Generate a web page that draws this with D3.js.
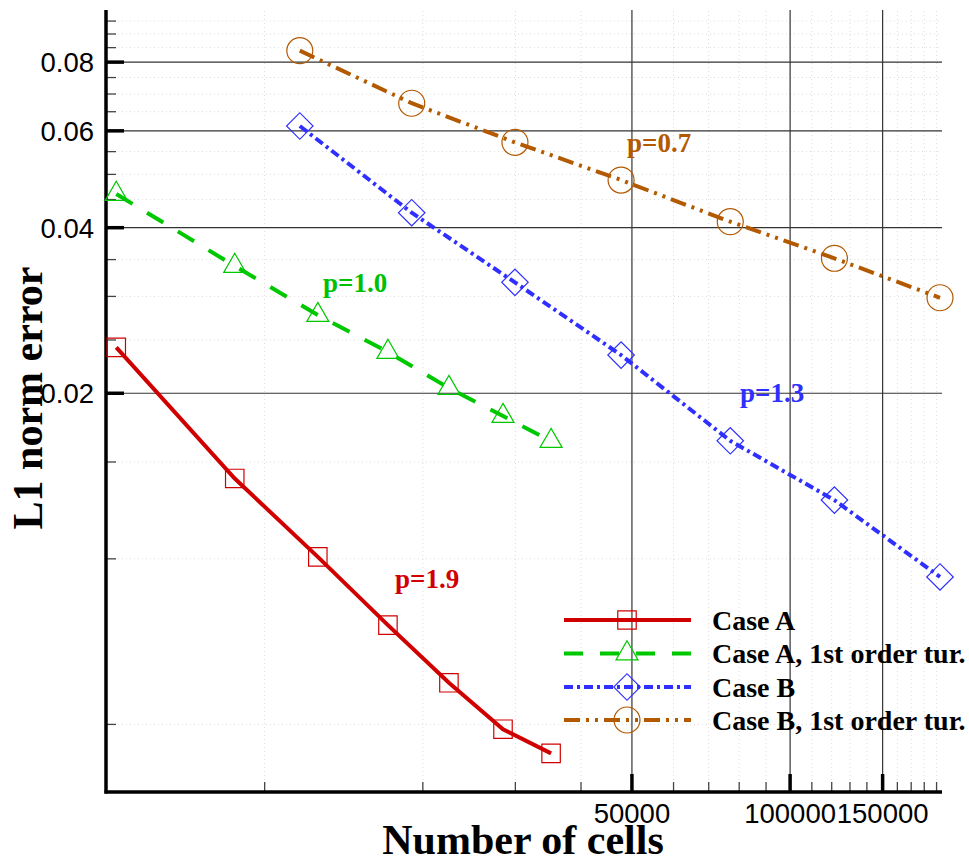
<!DOCTYPE html>
<html>
<head>
<meta charset="utf-8">
<script src="https://cdn.jsdelivr.net/npm/d3@7"></script>
<style>
  body { margin: 0; background: #fff; }
</style>
</head>
<body>
<div id="chart"></div>
<script>
// Grid sizes (number of cells) for the two cases
const cellsA = [5230, 8790, 12650, 17200, 22470, 28480, 35160];
const cellsB = [11690, 19090, 30010, 47780, 77100, 121700, 193300];

// L1 norm error for each series
const errCaseA = [0.02419, 0.01397, 0.01006, 0.00756, 0.00594, 0.00489, 0.00442];
const errCaseA1st = [0.04597, 0.03400, 0.02769, 0.02372, 0.02040, 0.01814, 0.01634];
const errCaseB = [0.06110, 0.04250, 0.03175, 0.02342, 0.01636, 0.01276, 0.00925];
const errCaseB1st = [0.08376, 0.06721, 0.05706, 0.04873, 0.04093, 0.03512, 0.02977];

// Legend labels and slope annotations
const seriesNames = ["Case A", "Case A, 1st order tur.", "Case B", "Case B, 1st order tur."];
const slopeLabels = ["p=1.9", "p=1.0", "p=1.3", "p=0.7"];

// Tick values
const xMajorTicks = [50000, 100000, 150000];
const xMinorTicks = [10000, 20000, 30000, 40000, 60000, 70000, 80000, 90000,
    110000, 120000, 130000, 140000, 160000, 170000, 180000, 190000];
const yMajorTicks = [0.02, 0.04, 0.06, 0.08];
const yMinorTicks = [0.005, 0.01, 0.015, 0.025, 0.03, 0.035, 0.045, 0.05, 0.055,
    0.065, 0.07, 0.075, 0.085, 0.09, 0.095];

function init() {
    const w = 969;
    const h = 863;
    const left = 106, right = 942, top = 10, bottom = 792; // plot area

    const xScale = d3.scaleLog().domain([5000, 195000]).range([left, right]);
    const yScale = d3.scaleLog().domain([0.00376, 0.0993]).range([bottom, top]);

    const svg = d3.select("#chart")
        .append("svg")
        .attr("width", w)
        .attr("height", h);

    // Minor dotted grid
    svg.append("g")
        .attr("transform", `translate(${left},0)`)
        .call(d3.axisLeft(yScale).tickValues(yMinorTicks).tickSize(-(right - left)).tickFormat(""))
        .call(g => g.select(".domain").remove())
        .selectAll("line")
        .attr("stroke", "#dcdcdc")
        .attr("stroke-dasharray", "1,3");

    svg.append("g")
        .attr("transform", `translate(0,${bottom})`)
        .call(d3.axisBottom(xScale).tickValues(xMinorTicks).tickSize(-(bottom - top)).tickFormat(""))
        .call(g => g.select(".domain").remove())
        .selectAll("line")
        .attr("stroke", "#dcdcdc")
        .attr("stroke-dasharray", "1,3");

    // Major solid grid
    svg.append("g")
        .attr("transform", `translate(${left},0)`)
        .call(d3.axisLeft(yScale).tickValues(yMajorTicks).tickSize(-(right - left)).tickFormat(""))
        .call(g => g.select(".domain").remove())
        .selectAll("line")
        .attr("stroke", "#333")
        .attr("stroke-width", 1.2);

    svg.append("g")
        .attr("transform", `translate(0,${bottom})`)
        .call(d3.axisBottom(xScale).tickValues(xMajorTicks).tickSize(-(bottom - top)).tickFormat(""))
        .call(g => g.select(".domain").remove())
        .selectAll("line")
        .attr("stroke", "#333")
        .attr("stroke-width", 1.2);

    // Minor ticks (inward)
    svg.append("g")
        .attr("transform", `translate(${left},0)`)
        .call(d3.axisLeft(yScale).tickValues(yMinorTicks).tickSize(-10).tickFormat(""))
        .call(g => g.select(".domain").remove())
        .selectAll("line")
        .attr("stroke", "#444")
        .attr("stroke-width", 1.3);

    svg.append("g")
        .attr("transform", `translate(0,${bottom})`)
        .call(d3.axisBottom(xScale).tickValues(xMinorTicks).tickSize(-10).tickFormat(""))
        .call(g => g.select(".domain").remove())
        .selectAll("line")
        .attr("stroke", "#444")
        .attr("stroke-width", 1.3);

    // Major ticks with labels
    const yAxis = svg.append("g")
        .attr("transform", `translate(${left},0)`)
        .call(d3.axisLeft(yScale).tickValues(yMajorTicks).tickSize(-18).tickPadding(12)
            .tickFormat(d3.format(".2f")));
    yAxis.select(".domain").remove();
    yAxis.selectAll("line").attr("stroke", "#000").attr("stroke-width", 3.5);
    yAxis.selectAll("text")
        .attr("font-family", "'Liberation Sans', Arial, sans-serif")
        .attr("font-size", "27.5px")
        .attr("fill", "#000")
        .attr("dy", "0.36em");

    const xAxis = svg.append("g")
        .attr("transform", `translate(0,${bottom})`)
        .call(d3.axisBottom(xScale).tickValues(xMajorTicks).tickSize(-18).tickPadding(12)
            .tickFormat(d3.format("d")));
    xAxis.select(".domain").remove();
    xAxis.selectAll("line").attr("stroke", "#000").attr("stroke-width", 3.5);
    xAxis.selectAll("text")
        .attr("font-family", "'Liberation Sans', Arial, sans-serif")
        .attr("font-size", "27.5px")
        .attr("fill", "#000")
        .attr("dy", "0.7em");

    // Axis lines
    svg.append("line")
        .attr("x1", left).attr("x2", left)
        .attr("y1", top).attr("y2", bottom + 1.5)
        .attr("stroke", "#000").attr("stroke-width", 3.5);
    svg.append("line")
        .attr("x1", left - 1.5).attr("x2", right)
        .attr("y1", bottom).attr("y2", bottom)
        .attr("stroke", "#000").attr("stroke-width", 3.5);

    // Series definitions (diamond = square turned 45 degrees)
    const series = [
        { name: seriesNames[0], cells: cellsA, err: errCaseA, color: "#d00000", dash: null, symbol: d3.symbolSquare, size: 340, rot: 0 },
        { name: seriesNames[1], cells: cellsA, err: errCaseA1st, color: "#00c800", dash: "19,17", symbol: d3.symbolTriangle, size: 210, rot: 0 },
        { name: seriesNames[2], cells: cellsB, err: errCaseB, color: "#2f2fff", dash: "9,4,3,4", symbol: d3.symbolSquare, size: 350, rot: 45 },
        { name: seriesNames[3], cells: cellsB, err: errCaseB1st, color: "#b35900", dash: "16,6,3,6,3,6", symbol: d3.symbolCircle, size: 530, rot: 0 }
    ];

    const line = d3.line()
        .x(d => xScale(d[0]))
        .y(d => yScale(d[1]));

    series.forEach(s => {
        const pts = s.cells.map((c, i) => [c, s.err[i]]);

        svg.append("path")
            .datum(pts)
            .attr("d", line)
            .attr("fill", "none")
            .attr("stroke", s.color)
            .attr("stroke-width", 4)
            .attr("stroke-dasharray", s.dash);

        svg.append("g")
            .selectAll("path")
            .data(pts)
            .enter()
            .append("path")
            .attr("d", d3.symbol().type(s.symbol).size(s.size))
            .attr("transform", d => `translate(${xScale(d[0])},${yScale(d[1])}) rotate(${s.rot})`)
            .attr("fill", "none")
            .attr("stroke", s.color)
            .attr("stroke-width", 1.2);
    });

    // Slope annotations
    const annot = [
        { text: slopeLabels[0], x: 395, y: 588, color: "#d00000" },
        { text: slopeLabels[1], x: 323, y: 292, color: "#00c000" },
        { text: slopeLabels[2], x: 740, y: 402, color: "#2f2fff" },
        { text: slopeLabels[3], x: 627, y: 152, color: "#b35900" }
    ];
    svg.selectAll("text.slope")
        .data(annot)
        .enter()
        .append("text")
        .attr("class", "slope")
        .attr("x", d => d.x)
        .attr("y", d => d.y)
        .attr("font-family", "'Liberation Serif', 'Times New Roman', serif")
        .attr("font-weight", "bold")
        .attr("font-size", "27px")
        .attr("fill", d => d.color)
        .text(d => d.text);

    // Legend
    const legend = svg.append("g").attr("class", "legend");
    const rowY = [620, 653.5, 687, 720];
    series.forEach((s, i) => {
        const row = legend.append("g").attr("transform", `translate(0,${rowY[i]})`);
        row.append("line")
            .attr("x1", 564).attr("x2", 691)
            .attr("y1", 0).attr("y2", 0)
            .attr("stroke", s.color)
            .attr("stroke-width", 4)
            .attr("stroke-dasharray", s.dash);
        row.append("path")
            .attr("d", d3.symbol().type(s.symbol).size(s.size))
            .attr("transform", `translate(627,0) rotate(${s.rot})`)
            .attr("fill", "none")
            .attr("stroke", s.color)
            .attr("stroke-width", 1.2);
        row.append("text")
            .attr("x", 712)
            .attr("y", 9.5)
            .attr("font-family", "'Liberation Serif', 'Times New Roman', serif")
            .attr("font-weight", "bold")
            .attr("font-size", "28px")
            .attr("fill", "#000")
            .text(s.name);
    });

    // Axis titles
    svg.append("text")
        .attr("transform", "translate(42,398) rotate(-90)")
        .attr("text-anchor", "middle")
        .attr("font-family", "'Liberation Serif', 'Times New Roman', serif")
        .attr("font-weight", "bold")
        .attr("font-size", "42px")
        .attr("fill", "#000")
        .text("L1 norm error");

    svg.append("text")
        .attr("x", 523)
        .attr("y", 854)
        .attr("text-anchor", "middle")
        .attr("font-family", "'Liberation Serif', 'Times New Roman', serif")
        .attr("font-weight", "bold")
        .attr("font-size", "42px")
        .attr("fill", "#000")
        .text("Number of cells");
}

window.onload = init;
</script>
</body>
</html>
